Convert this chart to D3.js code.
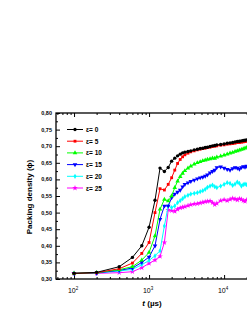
<!DOCTYPE html>
<html>
<head>
<meta charset="utf-8">
<script src="https://cdn.jsdelivr.net/npm/d3@7"></script>
<style>
  body { margin: 0; background: #fff; }
  svg { display: block; font-family: Arial, "Liberation Sans", sans-serif; }
</style>
</head>
<body>
<div id="plot"></div>
<script>
// time points (µs)
var times = [100, 200, 400, 600, 800, 1000, 1200, 1400, 1600, 1800, 2000, 2200, 2400, 2600, 2800, 3000,
  3300, 3600, 4000, 4400, 4800, 5200, 5600, 6000, 6500, 7000, 7500, 8000, 9000, 10000,
  11000, 12000, 13000, 14000, 15000, 16000, 17000, 18000, 19000, 20000, 22000, 24000];

var eps0 = [0.317, 0.320, 0.337, 0.365, 0.400, 0.456, 0.537, 0.634, 0.624, 0.636, 0.655, 0.664, 0.671, 0.676, 0.680, 0.682,
  0.684, 0.686, 0.689, 0.691, 0.693, 0.694, 0.696, 0.697, 0.699, 0.701, 0.702, 0.704, 0.705, 0.707,
  0.709, 0.710, 0.711, 0.713, 0.714, 0.715, 0.716, 0.717, 0.718, 0.719, 0.720, 0.721];
var eps5 = [0.317, 0.319, 0.331, 0.348, 0.377, 0.410, 0.500, 0.572, 0.568, 0.585, 0.605, 0.628, 0.648, 0.660, 0.668, 0.674,
  0.679, 0.683, 0.686, 0.689, 0.691, 0.693, 0.694, 0.696, 0.697, 0.699, 0.700, 0.701, 0.703, 0.704,
  0.706, 0.707, 0.708, 0.709, 0.711, 0.711, 0.712, 0.713, 0.714, 0.715, 0.716, 0.717];
var eps10 = [0.317, 0.319, 0.328, 0.337, 0.357, 0.380, 0.430, 0.510, 0.540, 0.535, 0.550, 0.575, 0.595, 0.608, 0.618, 0.626,
  0.634, 0.640, 0.646, 0.650, 0.653, 0.656, 0.658, 0.660, 0.662, 0.664, 0.663, 0.667, 0.670, 0.673,
  0.676, 0.679, 0.681, 0.684, 0.686, 0.688, 0.690, 0.692, 0.694, 0.696, 0.698, 0.700];
var eps15 = [0.317, 0.318, 0.326, 0.333, 0.350, 0.366, 0.400, 0.480, 0.520, 0.520, 0.545, 0.556, 0.562, 0.568, 0.578, 0.585,
  0.590, 0.594, 0.598, 0.602, 0.605, 0.607, 0.610, 0.614, 0.620, 0.624, 0.628, 0.636, 0.638, 0.634,
  0.630, 0.628, 0.633, 0.636, 0.634, 0.631, 0.636, 0.639, 0.637, 0.640, 0.641, 0.640];
var eps20 = [0.317, 0.318, 0.324, 0.329, 0.343, 0.356, 0.370, 0.385, 0.460, 0.520, 0.515, 0.520, 0.530, 0.536, 0.542, 0.548,
  0.552, 0.556, 0.558, 0.560, 0.563, 0.566, 0.570, 0.576, 0.580, 0.583, 0.578, 0.575, 0.580, 0.585,
  0.590, 0.588, 0.582, 0.586, 0.592, 0.588, 0.580, 0.584, 0.586, 0.584, 0.587, 0.585];
var eps25 = [0.317, 0.317, 0.319, 0.322, 0.334, 0.347, 0.357, 0.368, 0.410, 0.508, 0.506, 0.504, 0.510, 0.514, 0.516, 0.518,
  0.521, 0.524, 0.526, 0.527, 0.529, 0.531, 0.533, 0.534, 0.535, 0.530, 0.524, 0.528, 0.536, 0.539,
  0.536, 0.540, 0.543, 0.541, 0.538, 0.542, 0.540, 0.536, 0.534, 0.538, 0.540, 0.537];

var seriesNames = ["ε= 0", "ε= 5", "ε= 10", "ε= 15", "ε= 20", "ε= 25"];
var seriesValues = [eps0, eps5, eps10, eps15, eps20, eps25];
var seriesColors = ["#000000", "#ff0000", "#00ff00", "#0000ff", "#00ffff", "#ff00ff"];

var yTicks = [0.30, 0.35, 0.40, 0.45, 0.50, 0.55, 0.60, 0.65, 0.70, 0.75, 0.80];
var xTicks = [100, 1000, 10000];
var xTickLabels = ["2", "3", "4"]; // exponents of 10

var W = 247, H = 319;
var pLeft = 56, pRight = 262, pTop = 113, pBottom = 279;

var svg = d3.select("#plot").append("svg")
    .attr("width", W)
    .attr("height", H);

svg.append("rect").attr("width", W).attr("height", H).attr("fill", "#fff");

var x = d3.scaleLog()
    .domain([57.5, 32000])
    .range([pLeft, pRight]);

var y = d3.scaleLinear()
    .domain([0.30, 0.80])
    .range([pBottom, pTop]);

svg.append("clipPath").attr("id", "clip")
  .append("rect")
    .attr("x", pLeft).attr("y", pTop)
    .attr("width", pRight - pLeft).attr("height", pBottom - pTop);

// minor ticks
var xMinor = [];
[10, 100, 1000, 10000].forEach(function(d) {
  for (var k = 2; k <= 9; k++) {
    var v = d * k;
    if (v > x.domain()[0] && v < x.domain()[1]) xMinor.push(v);
  }
});
var yMinor = yTicks.slice(0, -1).map(function(d) { return d + 0.025; });

function styleAxis(g) {
  g.select(".domain").remove();
  g.selectAll("line").attr("stroke", "#000").attr("stroke-width", 1);
  g.selectAll("text").remove();
}

// bottom axis
svg.append("g").attr("transform", "translate(0," + pBottom + ")")
  .call(d3.axisBottom(x).tickValues(xTicks).tickSize(-4)).call(styleAxis);
svg.append("g").attr("transform", "translate(0," + pBottom + ")")
  .call(d3.axisBottom(x).tickValues(xMinor).tickSize(-2)).call(styleAxis);
// top axis
svg.append("g").attr("transform", "translate(0," + pTop + ")")
  .call(d3.axisTop(x).tickValues(xTicks).tickSize(-4)).call(styleAxis);
svg.append("g").attr("transform", "translate(0," + pTop + ")")
  .call(d3.axisTop(x).tickValues(xMinor).tickSize(-2)).call(styleAxis);
// left axis
svg.append("g").attr("transform", "translate(" + pLeft + ",0)")
  .call(d3.axisLeft(y).tickValues(yTicks).tickSize(-4)).call(styleAxis);
svg.append("g").attr("transform", "translate(" + pLeft + ",0)")
  .call(d3.axisLeft(y).tickValues(yMinor).tickSize(-2)).call(styleAxis);

// frame
svg.append("rect")
    .attr("x", pLeft).attr("y", pTop)
    .attr("width", pRight - pLeft).attr("height", pBottom - pTop)
    .attr("fill", "none")
    .attr("stroke", "#000")
    .attr("stroke-width", 1.3);

// y tick labels
svg.append("g").selectAll("text")
  .data(yTicks)
  .enter().append("text")
    .attr("x", pLeft - 4)
    .attr("y", function(d) { return y(d) + 2; })
    .attr("text-anchor", "end")
    .style("font-size", "5.5px")
    .style("font-weight", "bold")
    .text(function(d) { return d3.format(".2f")(d).replace(".", ","); });

// x tick labels
var xl = svg.append("g").selectAll("text")
  .data(xTicks)
  .enter().append("text")
    .attr("x", function(d) { return x(d) - 1; })
    .attr("y", pBottom + 14)
    .attr("text-anchor", "middle")
    .style("font-size", "7px");
xl.append("tspan").text("10");
xl.append("tspan").attr("dy", -3).style("font-size", "4.5px")
  .text(function(d, i) { return xTickLabels[i]; });

// axis titles
svg.append("text")
    .attr("transform", "translate(32," + 197 + ") rotate(-90)")
    .attr("text-anchor", "middle")
    .style("font-size", "8px")
    .style("font-weight", "bold")
    .text("Packing density (ϕ)");

var xt = svg.append("text")
    .attr("x", 152)
    .attr("y", 306)
    .attr("text-anchor", "middle")
    .style("font-size", "8px")
    .style("font-weight", "bold");
xt.append("tspan").style("font-style", "italic").text("t");
xt.append("tspan").text(" (µs)");

// symbols
var symbols = [
  d3.symbol().type(d3.symbolCircle).size(9),
  d3.symbol().type(d3.symbolSquare).size(8),
  d3.symbol().type(d3.symbolTriangle).size(9),
  d3.symbol().type(d3.symbolTriangle).size(9),
  d3.symbol().type(d3.symbolDiamond).size(8),
  d3.symbol().type(d3.symbolStar).size(10)
];
var rot = [0, 0, 0, 180, 0, 0];

var line = d3.line()
    .x(function(d) { return x(d[0]); })
    .y(function(d) { return y(d[1]); });

var plot = svg.append("g").attr("clip-path", "url(#clip)");

// draw from last to first so black ends on top
for (var s = seriesValues.length - 1; s >= 0; s--) {
  var pts = times.map(function(t, i) { return [t, seriesValues[s][i]]; });
  plot.append("path")
      .datum(pts)
      .attr("fill", "none")
      .attr("stroke", seriesColors[s])
      .attr("stroke-width", 1)
      .attr("d", line);
  plot.append("g").selectAll("path")
    .data(pts)
    .enter().append("path")
      .attr("d", symbols[s])
      .attr("fill", seriesColors[s])
      .attr("transform", function(d) {
        return "translate(" + x(d[0]) + "," + y(d[1]) + ") rotate(" + rot[s] + ")";
      });
}

// legend
var legend = svg.append("g");
seriesNames.forEach(function(name, i) {
  var ly = 129.5 + i * 11.7;
  legend.append("line")
      .attr("x1", 67).attr("x2", 83)
      .attr("y1", ly).attr("y2", ly)
      .attr("stroke", seriesColors[i])
      .attr("stroke-width", 1);
  legend.append("path")
      .attr("d", symbols[i])
      .attr("fill", seriesColors[i])
      .attr("transform", "translate(75," + ly + ") rotate(" + rot[i] + ")");
  legend.append("text")
      .attr("x", 86)
      .attr("y", ly + 2.5)
      .style("font-size", "6.5px")
      .style("font-weight", "bold")
      .text(name);
});
</script>
</body>
</html>
